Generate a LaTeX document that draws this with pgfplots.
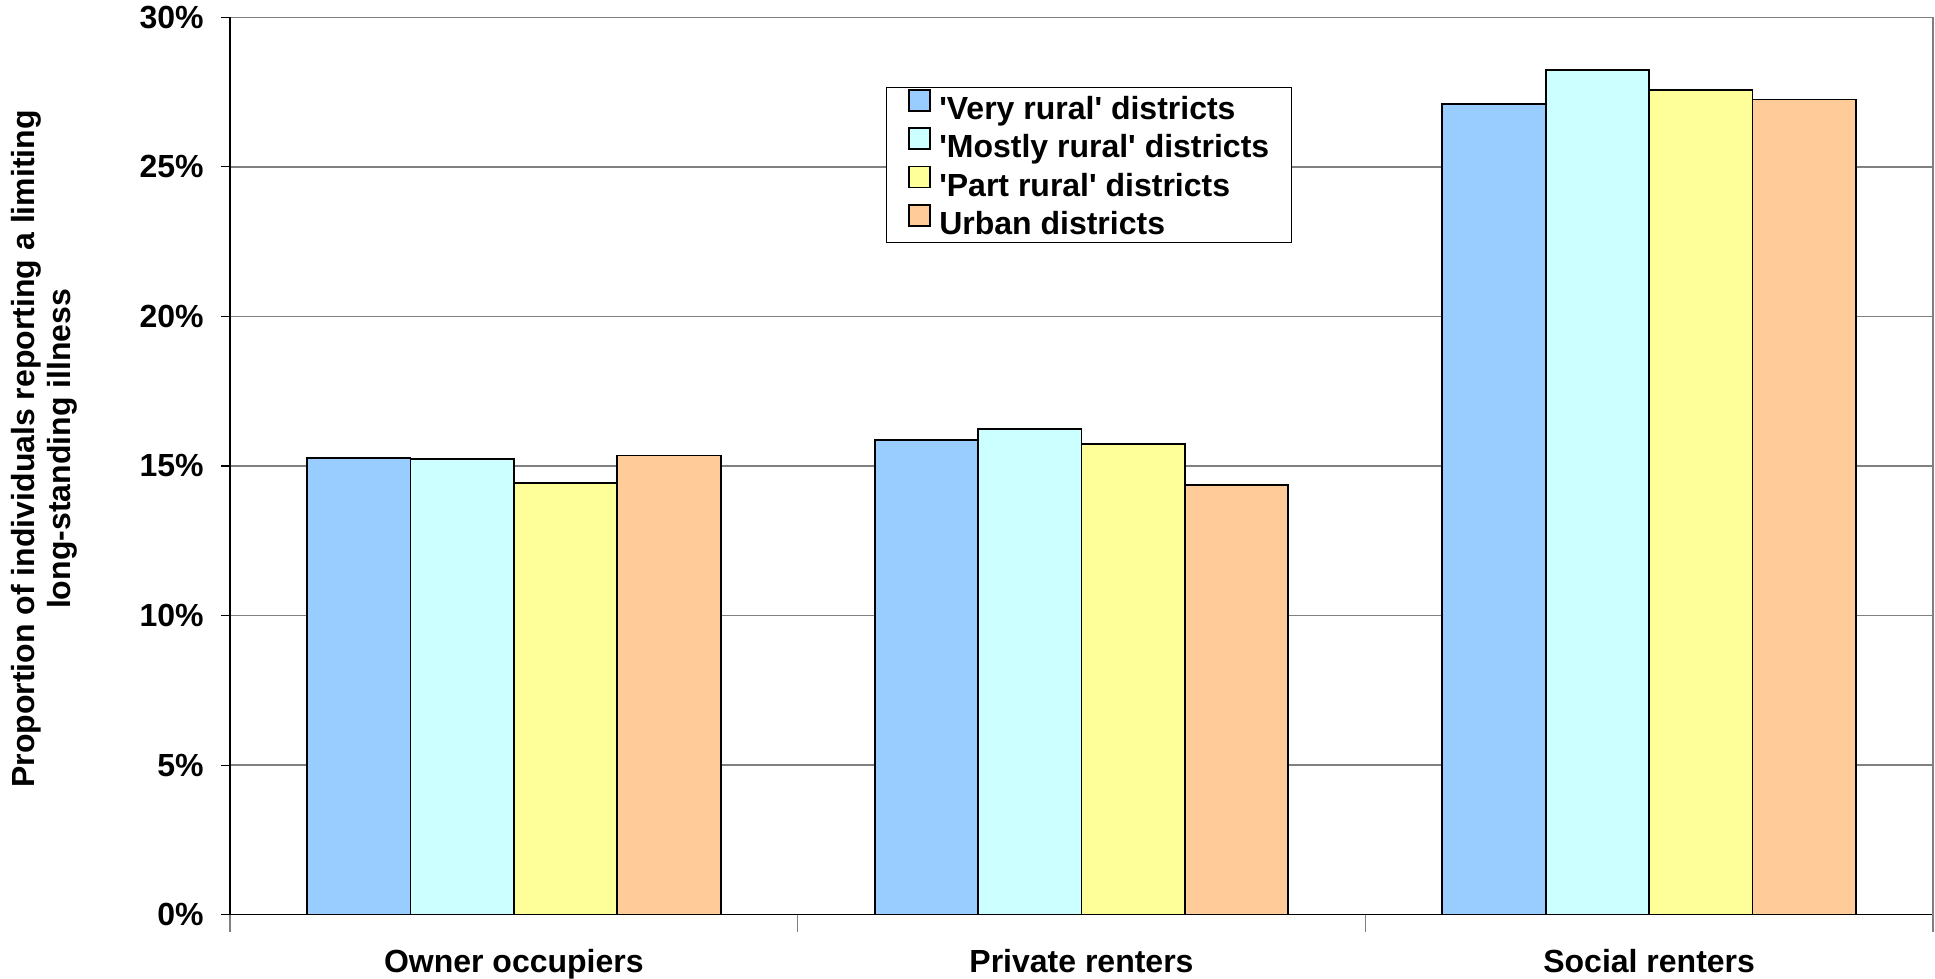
\documentclass[border=0pt]{standalone}
\usepackage{fontspec}
\setmainfont{Liberation Sans}
\usepackage{pgfplots}
\pgfplotsset{compat=1.18}

\definecolor{veryrural}{HTML}{99CCFF}
\definecolor{mostlyrural}{HTML}{CCFFFF}
\definecolor{partrural}{HTML}{FFFF99}
\definecolor{urban}{HTML}{FFCC99}
\definecolor{gridgray}{HTML}{808080}

\newcommand{\chartfont}{\fontsize{16}{18}\selectfont\bfseries}

\pgfplotsset{
  sqlegend/.style={legend image code/.code={
    \draw[##1,line width=0.9pt] (0pt,0.2pt) rectangle (10.5pt,10.7pt);}},
}

\begin{document}
\begin{tikzpicture}
\begin{axis}[
  name=ax,
  scale only axis,
  width=851.5pt, height=448.7pt,
  ybar=0pt, bar width=51.7pt,
  xmin=-0.5, xmax=2.5, ymin=0, ymax=30,
  axis lines=left,
  axis line style={-, black, line width=0.6pt},
  xtick={0,1,2},
  xticklabels={Owner occupiers, Private renters, Social renters},
  minor xtick={-0.5,0.5,1.5,2.5},
  ytick={0,5,...,30},
  yticklabel={\pgfmathprintnumber{\tick}\%},
  /pgf/number format/assume math mode=true,
  tick align=outside,
  major tick length=4.5pt, minor tick length=8.6pt,
  major x tick style={draw=none},
  minor x tick style={draw=gridgray, line width=0.6pt},
  y tick style={black, line width=0.6pt},
  ymajorgrids,
  major grid style={gridgray, line width=0.75pt},
  extra x ticks={2.5}, extra x tick labels={},
  extra x tick style={xmajorgrids=true, major tick length=0pt},
  tick label style={font=\chartfont},
  yticklabel style={anchor=east, inner sep=0pt, xshift=-8.5pt},
  xticklabel style={anchor=base, inner sep=0pt, yshift=-24.5pt},
  ylabel={Proportion of individuals reporting a limiting\\long-standing illness},
  ylabel style={align=center, font=\chartfont,
    at={(axis description cs:-0.109,0.519)}, anchor=center},
  legend style={
    at={(axis description cs:0.3852,0.922)}, anchor=north west,
    draw=black, line width=0.5pt, font=\chartfont,
    inner xsep=11pt, inner ysep=0.6pt, row sep=0.5pt,
    nodes={inner xsep=0pt, inner ysep=0pt, text height=11.6pt, text depth=3.4pt},
    /tikz/column sep=4pt,
  },
  legend cell align=left,
]
\addplot[fill=veryrural, draw=black, line width=0.9pt, sqlegend]
  coordinates {(0,15.26) (1,15.87) (2,27.10)};
\addplot[fill=mostlyrural, draw=black, line width=0.9pt, sqlegend]
  coordinates {(0,15.23) (1,16.23) (2,28.25)};
\addplot[fill=partrural, draw=black, line width=0.9pt, sqlegend]
  coordinates {(0,14.42) (1,15.73) (2,27.56)};
\addplot[fill=urban, draw=black, line width=0.9pt, sqlegend]
  coordinates {(0,15.35) (1,14.37) (2,27.25)};
\legend{\textquotesingle Very rural\textquotesingle{} districts,
  \textquotesingle Mostly rural\textquotesingle{} districts,
  \textquotesingle Part rural\textquotesingle{} districts,
  Urban districts}
\end{axis}
\pgfresetboundingbox
\path ([shift={(-115pt,-32.15pt)}]ax.south west) rectangle ([shift={(1pt,8.65pt)}]ax.north east);
\end{tikzpicture}
\end{document}
